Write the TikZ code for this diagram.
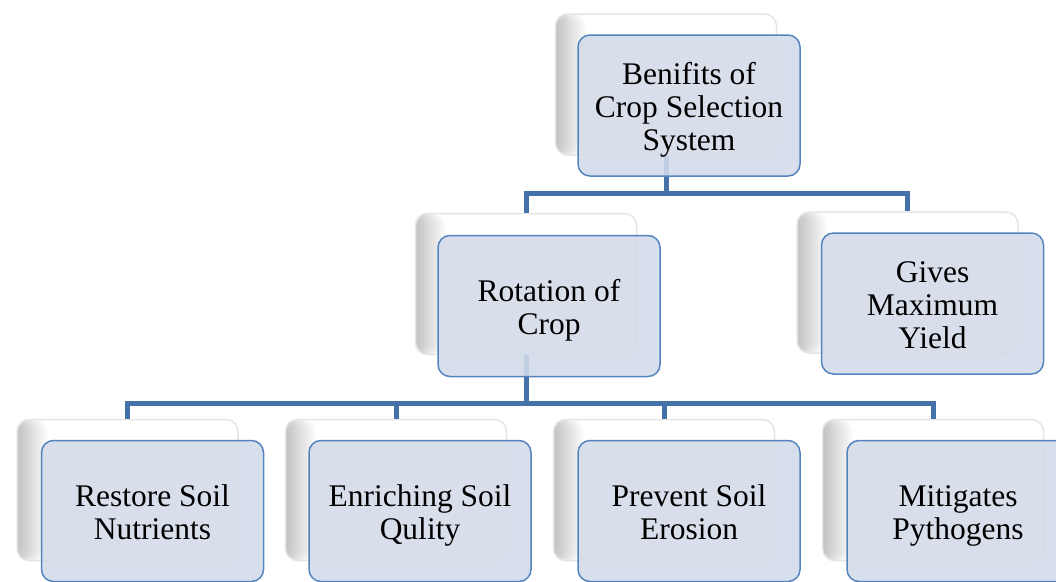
\documentclass[tikz,border=0pt]{standalone}
\usepackage{fontspec}
\setmainfont{Liberation Serif}
\usetikzlibrary{positioning}

\definecolor{connblue}{RGB}{68,114,168}
\definecolor{boxfill}{RGB}{211,219,233}
\definecolor{boxline}{RGB}{84,132,190}
\newcommand{\boxtext}[1]{\begin{tabular}{@{}c@{}}\rule{0pt}{33pt}#1\end{tabular}}

\begin{document}
\begin{tikzpicture}[
		x=1pt, y=-1pt,
		backbox/.style={rectangle, draw=black!10, line width=1.5pt, fill=white, rounded corners=12pt,
			minimum width=221pt, minimum height=141pt,
			path picture={\foreach \w in {3,6,...,30}
				\fill[black, opacity=0.022] (path picture bounding box.south west) rectangle ([xshift=\w pt]path picture bounding box.north west);}},
		frontbox/.style={rectangle, draw=boxline, line width=1.5pt, fill=boxfill, fill opacity=0.88,
			text opacity=1, rounded corners=12pt, minimum width=222pt, minimum height=141pt,
			font=\fontsize{31.5}{33}\selectfont},
		conn/.style={draw=connblue, line width=5pt}
	]
		\useasboundingbox (0,0) rectangle (1056,581);
		
		\node[backbox] (topbk) at (666,84.5) {};
		\node[backbox] (rotbk) at (526,284) {};
		\node[backbox] (givesbk) at (907.5,282.5) {};
		\node[backbox] (restorebk) at (127.5,490) {};
		\node[backbox] (enrichbk) at (396,490) {};
		\node[backbox] (preventbk) at (664,490) {};
		\node[backbox] (mitigatebk) at (933,490) {};
		
		\draw[conn] (topbk.south) -- ++(0,38) -| (rotbk.north);
		\draw[conn] (topbk.south) -- ++(0,38) -| (givesbk.north);
		\draw[conn] (rotbk.south) -- ++(0,48) -| (restorebk.north);
		\draw[conn] (rotbk.south) -- ++(0,48) -| (enrichbk.north);
		\draw[conn] (rotbk.south) -- ++(0,48) -| (preventbk.north);
		\draw[conn] (rotbk.south) -- ++(0,48) -| (mitigatebk.north);
		
		\node[frontbox] (top) at ([shift={(23,21)}]topbk.center) {\boxtext{Benifits of\\Crop Selection\\System}};
		\node[frontbox] (rot) at ([shift={(23,22)}]rotbk.center) {\boxtext{Rotation of\\Crop}};
		\node[frontbox] (gives) at ([shift={(25,21)}]givesbk.center) {\boxtext{Gives\\Maximum\\Yield}};
		\node[frontbox] (restore) at ([shift={(25,21)}]restorebk.center) {\boxtext{Restore Soil\\Nutrients}};
		\node[frontbox] (enrich) at ([shift={(24,21)}]enrichbk.center) {\boxtext{Enriching Soil\\Qulity}};
		\node[frontbox] (prevent) at ([shift={(25,21)}]preventbk.center) {\boxtext{Prevent Soil\\Erosion}};
		\node[frontbox] (mitigate) at ([shift={(25,21)}]mitigatebk.center) {\boxtext{Mitigates\\Pythogens}};
	\end{tikzpicture}
\end{document}
